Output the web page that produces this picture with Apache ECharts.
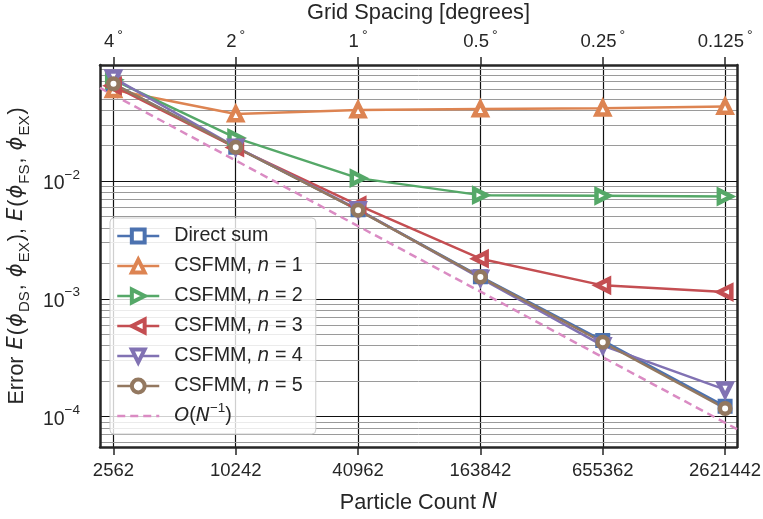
<!DOCTYPE html>
<html>
<head>
<meta charset="utf-8">
<script src="https://cdn.jsdelivr.net/npm/echarts@6/dist/echarts.min.js"></script>
<style>
  html, body { margin: 0; padding: 0; background: #fff; }
  #chart { width: 763px; height: 519px; }
</style>
</head>
<body>
<div id="chart"></div>
<script>
// particle counts on the bottom axis, matching grid spacing on the top axis
const particleCounts = [2562, 10242, 40962, 163842, 655362, 2621442]
const gridSpacing = ['4', '2', '1', '0.5', '0.25', '0.125']

// errors
const directSum = [0.0672, 0.0194, 0.00570, 0.00154, 0.000441, 0.000122]
const csfmm1 = [0.0597, 0.0372, 0.0403, 0.0411, 0.0417, 0.0430]
const csfmm2 = [0.0726, 0.0233, 0.0106, 0.00760, 0.00750, 0.00740]
const csfmm3 = [0.0646, 0.0193, 0.00624, 0.00219, 0.00130, 0.00114]
const csfmm4 = [0.0755, 0.0195, 0.00575, 0.00150, 0.000400, 0.000169]
const csfmm5 = [0.0671, 0.0194, 0.00566, 0.00153, 0.000427, 0.000117]

// reference slope line, read at both ends of the x range
const refN = [2200, 3000000]
const refErr = [0.0621, 0.000078]

// y gridlines
const yMajor = [1e-4, 1e-3, 1e-2]
const yMinor = [6e-5, 7e-5, 8e-5, 9e-5,
  2e-4, 3e-4, 4e-4, 5e-4, 6e-4, 7e-4, 8e-4, 9e-4,
  2e-3, 3e-3, 4e-3, 5e-3, 6e-3, 7e-3, 8e-3, 9e-3,
  2e-2, 3e-2, 4e-2, 5e-2, 6e-2, 7e-2, 8e-2, 9e-2]

const xMin = 2200, xMax = 3000000
const yMin = 5.5e-5, yMax = 0.097

const INK = '#262626'
const FONT = 'Liberation Sans'
const MATH = 'DejaVu Sans'
const PHI = '\u03d5'

const chart = echarts.init(document.getElementById('chart'), null, { renderer: 'canvas' })

const lineSeries = (name, values, color, symbol, rotate) => ({
  name
  , type: 'line'
  , data: particleCounts.map((n, i) => [n, values[i]])
  , symbol
  , symbolRotate: rotate
  , symbolSize: symbol === 'triangle' ? 12.5 : 10.5
  , showAllSymbol: true
  , lineStyle: { color, width: 2.5 }
  , itemStyle: { color: '#fff', borderColor: color, borderWidth: 4.5 }
  , emphasis: { disabled: true }
})

const legendRich = {
  r: { fontFamily: FONT, fontSize: 19.7, color: INK, lineHeight: 30 }
  , p: { fontFamily: FONT, fontSize: 19.7, color: INK, lineHeight: 30, padding: [0, 0, 0, 10] }
  , i: { fontFamily: MATH, fontStyle: 'italic', fontSize: 19, color: INK, lineHeight: 30 }
  , ip: { fontFamily: MATH, fontStyle: 'italic', fontSize: 19, color: INK, lineHeight: 30, padding: [0, 0, 0, 10] }
  , sup: { fontFamily: FONT, fontSize: 13.5, color: INK, lineHeight: 30, verticalAlign: 'top' }
}

const legendText = (name) => {
  if (name === 'Direct sum') return '{p|Direct sum}'
  if (name.startsWith('CSFMM')) return '{p|CSFMM, }{i|n}{r| = ' + name.slice(-1) + '}'
  return '{ip|O}{r|(}{i|N}{sup|\u22121}{r|)}'
}

const seriesNames = ['Direct sum', 'CSFMM, n = 1', 'CSFMM, n = 2', 'CSFMM, n = 3',
  'CSFMM, n = 4', 'CSFMM, n = 5', 'O(N^-1)']

const option = {
  animation: false
  , backgroundColor: '#fff'
  , grid: { left: 100, right: 26, top: 65, bottom: 72, containLabel: false, outerBoundsMode: 'none' }
  , legend: {
    orient: 'vertical'
    , left: 110
    , top: 218
    , itemWidth: 42
    , itemHeight: 16
    , itemGap: 0
    , padding: [3, 13, 3, 6]
    , backgroundColor: 'rgba(255,255,255,0.8)'
    , borderColor: '#cccccc'
    , borderWidth: 1
    , borderRadius: 4
    , itemStyle: { borderWidth: 4 }
    , lineStyle: { width: 2.5 }
    , textStyle: { fontFamily: FONT, fontSize: 19.7, color: INK, lineHeight: 30, rich: legendRich }
    , formatter: legendText
    , selectedMode: false
    , data: seriesNames.map((name) => name === 'O(N^-1)'
      ? { name, itemStyle: { opacity: 0, borderWidth: 0 } }
      : { name })
  }
  , xAxis: [
    {
      type: 'log'
      , logBase: 4
      , min: xMin
      , max: xMax
      , position: 'bottom'
      , name: '{r|Particle Count }{i|N}'
      , nameLocation: 'middle'
      , nameGap: 45
      , nameTextStyle: {
        rich: {
          r: { fontFamily: FONT, fontSize: 21.7, color: INK }
          , i: { fontFamily: MATH, fontStyle: 'italic', fontSize: 20.5, color: INK }
        }
      }
      , axisLine: { show: true, lineStyle: { color: INK, width: 2.5 } }
      , axisTick: { show: true, inside: false, length: 8, lineStyle: { color: INK, width: 1.5 }, customValues: particleCounts }
      , axisLabel: {
        margin: 14, fontFamily: FONT, fontSize: 18.5, color: INK
        , customValues: particleCounts
        , formatter: (v) => String(Math.round(v))
      }
      , splitLine: { show: true, lineStyle: { color: '#111', width: 1.2 } }
      , minorTick: { show: false }
    }
    , {
      type: 'log'
      , logBase: 4
      , min: xMin
      , max: xMax
      , position: 'top'
      , name: 'Grid Spacing [degrees]'
      , nameLocation: 'middle'
      , nameGap: 41
      , nameMoveOverlap: false
      , nameTextStyle: { fontFamily: FONT, fontSize: 21.8, color: INK }
      , axisLine: { show: true, lineStyle: { color: INK, width: 2.5 } }
      , axisTick: { show: true, inside: false, length: 8, lineStyle: { color: INK, width: 1.5 }, customValues: particleCounts }
      , axisLabel: {
        margin: 14, fontFamily: FONT, fontSize: 18.5, color: INK
        , customValues: particleCounts
        , formatter: (v) => {
          let best = 0
          particleCounts.forEach((n, i) => {
            if (Math.abs(Math.log(n / v)) < Math.abs(Math.log(particleCounts[best] / v))) best = i
          })
          return '{n|' + gridSpacing[best] + '}{d|\u00b0}'
        }
        , rich: {
          n: { fontFamily: FONT, fontSize: 18.5, color: INK, lineHeight: 22, verticalAlign: 'bottom' }
          , d: { fontFamily: FONT, fontSize: 14, color: INK, lineHeight: 22, verticalAlign: 'top', padding: [0, 0, 0, 3] }
        }
      }
      , splitLine: { show: false }
    }
  ]
  , yAxis: [
    {
      type: 'log'
      , logBase: 10
      , min: yMin
      , max: yMax
      , position: 'left'
      , name: '{r|Error }{i|E}{r|(}{i|' + PHI + '}{s|DS}{r|, }{i|' + PHI + '}{s|EX}{r|), }{i|E}{r|(}{i|'
        + PHI + '}{s|FS}{r|, }{i|' + PHI + '}{s|EX}{r|)}'
      , nameLocation: 'middle'
      , nameRotate: 90
      , nameGap: 62
      , nameTextStyle: {
        rich: {
          r: { fontFamily: FONT, fontSize: 21.7, color: INK, lineHeight: 30, verticalAlign: 'middle' }
          , i: { fontFamily: MATH, fontStyle: 'italic', fontSize: 21, color: INK, lineHeight: 30, verticalAlign: 'middle', padding: [0, 1, 0, 1] }
          , s: { fontFamily: FONT, fontSize: 15, color: INK, lineHeight: 18, verticalAlign: 'bottom', padding: [0, 1, 0, 0] }
        }
      }
      , axisLine: { show: true, lineStyle: { color: INK, width: 2.5 } }
      , axisTick: { show: false, customValues: yMajor }
      , axisLabel: {
        margin: 20
        , customValues: yMajor
        , formatter: (v) => '{b|10}{e|\u2212' + Math.round(-Math.log10(v)) + '}'
        , rich: {
          b: { fontFamily: FONT, fontSize: 19.5, color: INK, lineHeight: 26, verticalAlign: 'bottom' }
          , e: { fontFamily: FONT, fontSize: 13.5, color: INK, lineHeight: 26, verticalAlign: 'top' }
        }
      }
      , splitLine: { show: true, lineStyle: { color: '#111', width: 1.2 } }
      , minorTick: { show: false }
      , z: 3
    }
    , {
      type: 'log'
      , logBase: 10
      , min: yMin
      , max: yMax
      , position: 'right'
      , axisLine: { show: true, lineStyle: { color: INK, width: 2.5 } }
      , axisTick: { show: false, customValues: yMinor }
      , axisLabel: { show: false, customValues: yMinor }
      , splitLine: { show: true, lineStyle: { color: '#9a9a9a', width: 1 } }
      , z: 1
    }
  ]
  , series: [
    lineSeries('Direct sum', directSum, '#4C72B0', 'rect', 0)
    , lineSeries('CSFMM, n = 1', csfmm1, '#DD8452', 'triangle', 0)
    , lineSeries('CSFMM, n = 2', csfmm2, '#55A868', 'triangle', -90)
    , lineSeries('CSFMM, n = 3', csfmm3, '#C44E52', 'triangle', 90)
    , lineSeries('CSFMM, n = 4', csfmm4, '#8172B3', 'triangle', 180)
    , lineSeries('CSFMM, n = 5', csfmm5, '#937860', 'circle', 0)
    , {
      name: 'O(N^-1)'
      , type: 'line'
      , data: refN.map((n, i) => [n, refErr[i]])
      , symbol: 'none'
      , lineStyle: { color: '#DA8BC3', width: 2.5, type: [8, 5] }
      , itemStyle: { color: '#DA8BC3' }
      , emphasis: { disabled: true }
    }
  ]
}

chart.setOption(option)
</script>
</body>
</html>
